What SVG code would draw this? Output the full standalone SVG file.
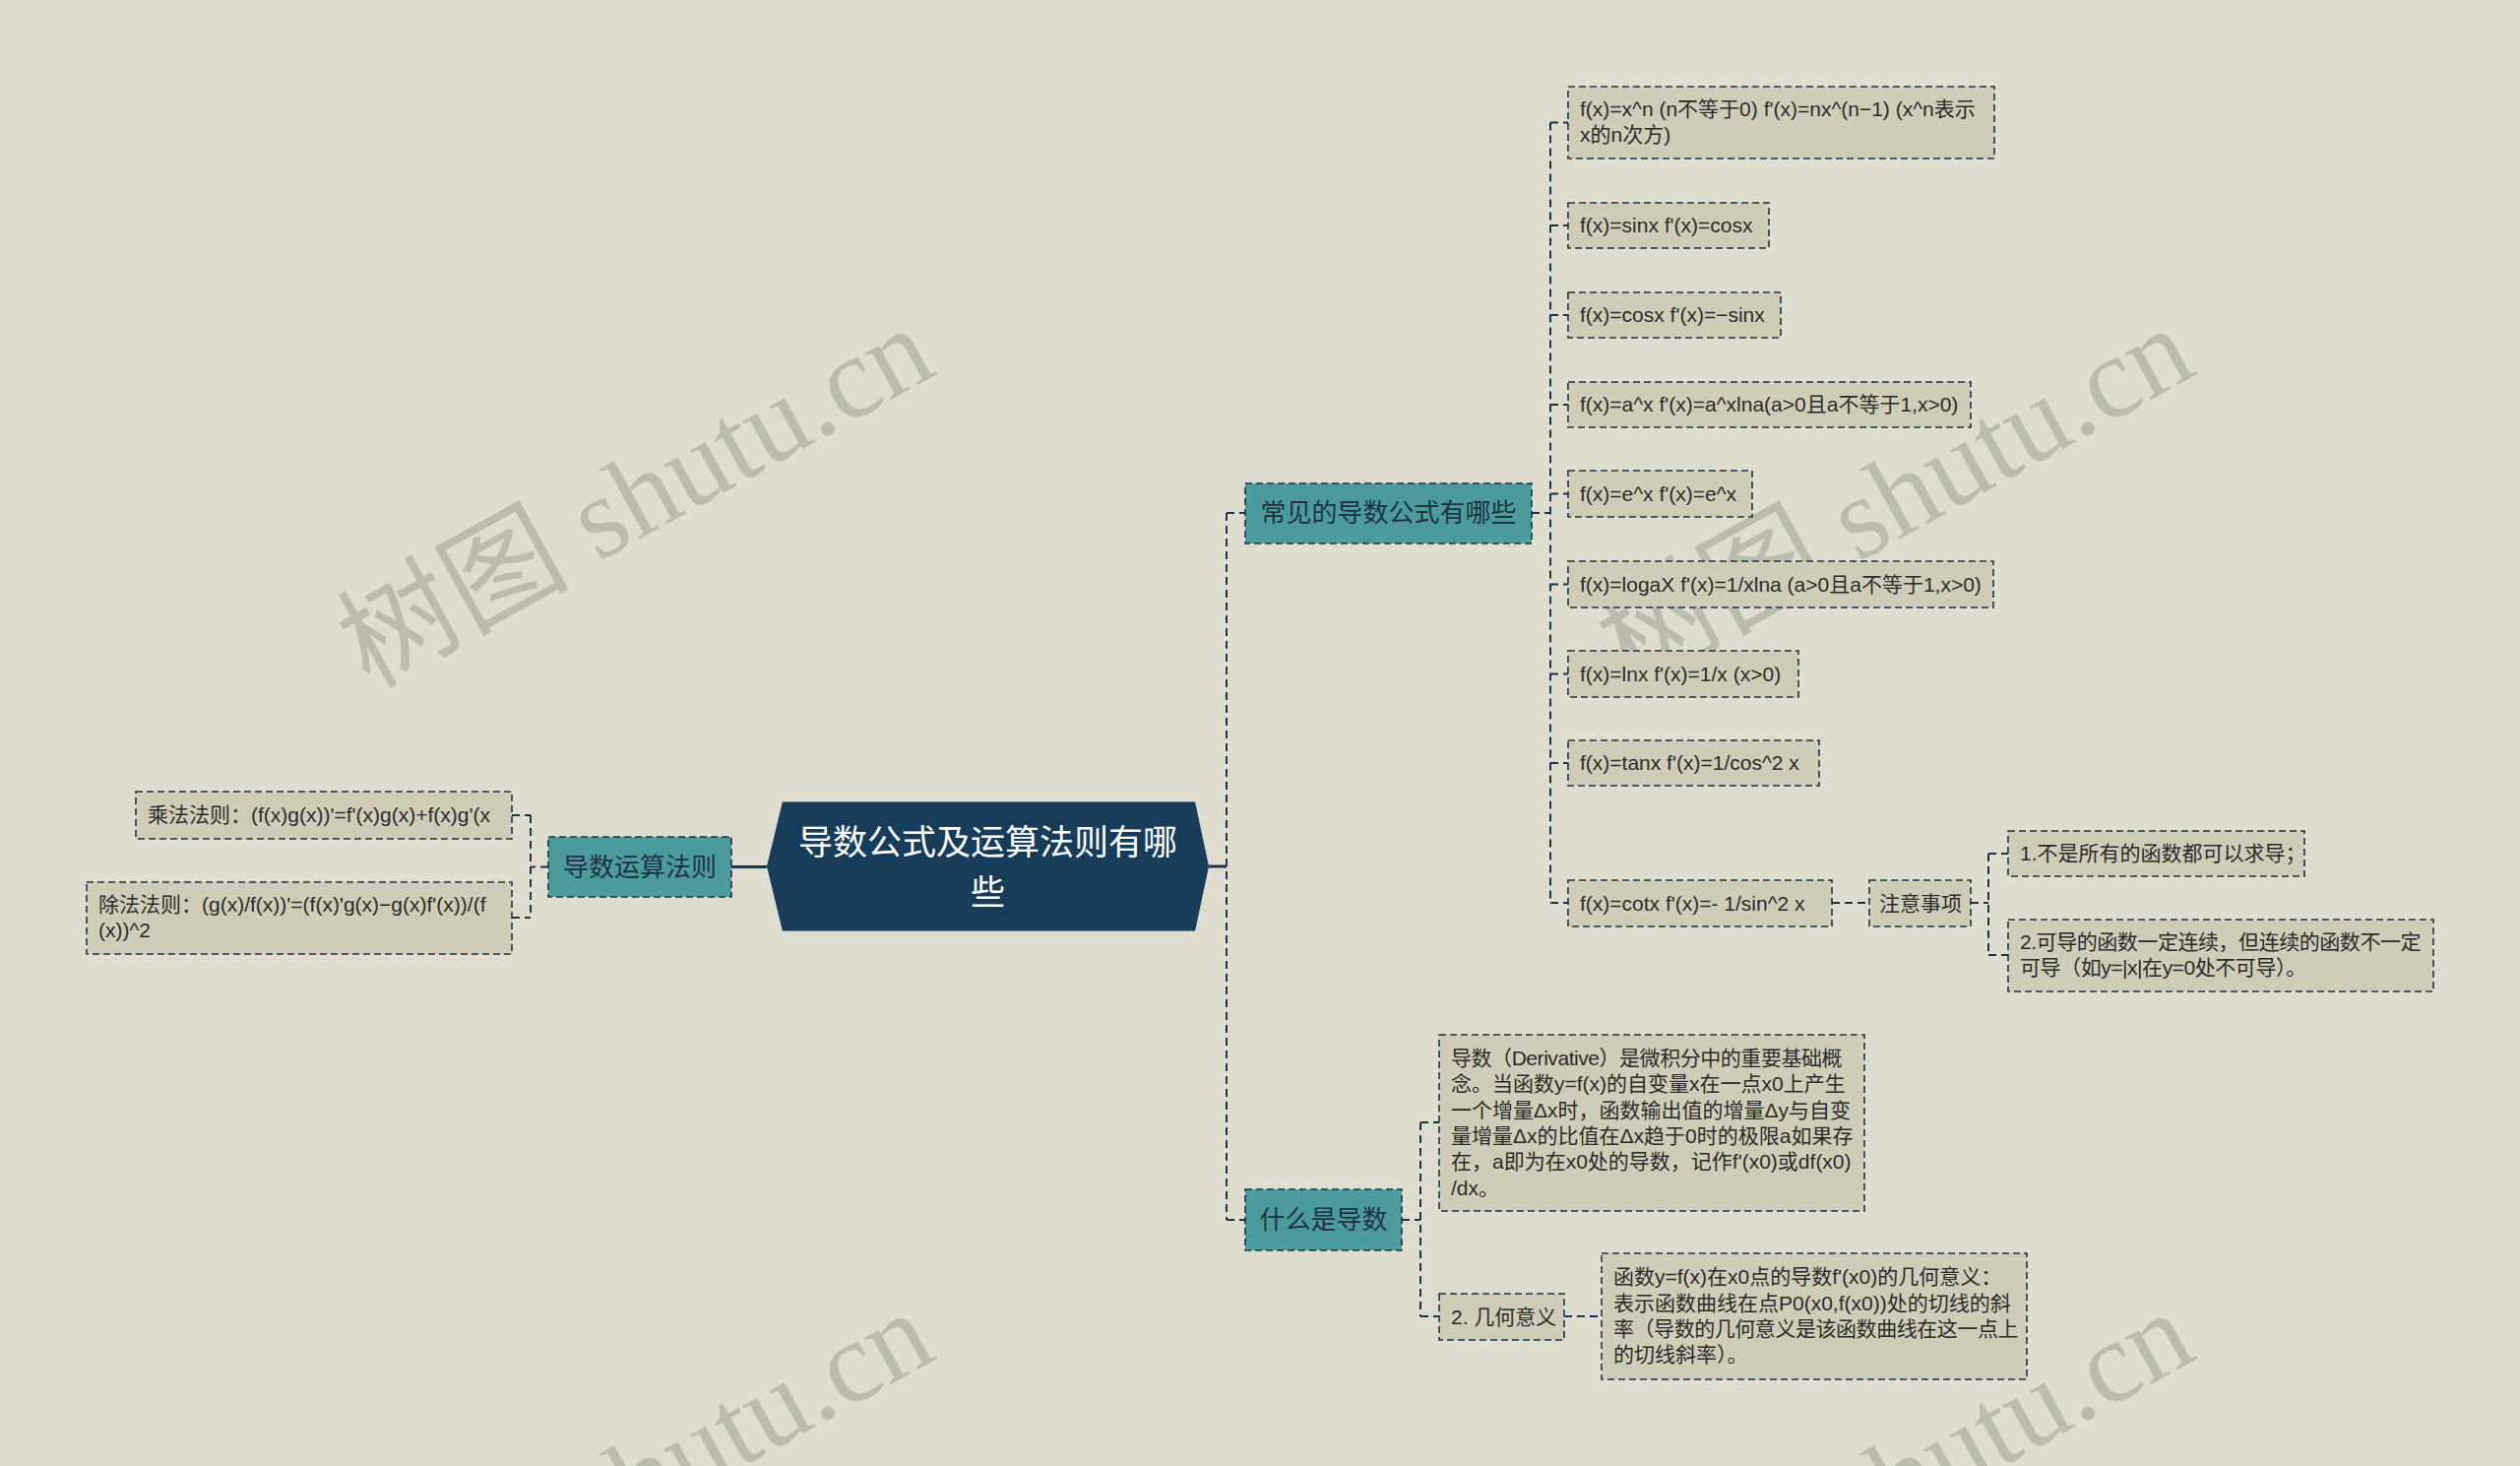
<svg xmlns="http://www.w3.org/2000/svg" width="2560" height="1489" viewBox="0 0 2560 1489">
<style>
.wm{font-family:"Liberation Serif","Noto Sans CJK SC",serif;font-size:118px;fill:#bcbcae}
.leaf rect{fill:#cfcdb7;stroke:#1c3447;stroke-width:1.6;stroke-dasharray:7 4}
.leaf text{font-family:"Liberation Sans","Noto Sans CJK SC",sans-serif;font-size:21px;fill:#2b2b2b}
.leaf text.tight{letter-spacing:-0.45px}
.main rect{fill:#4c9b9c;stroke:#1c3447;stroke-width:1.6;stroke-dasharray:7 4}
.main text{font-family:"Noto Sans CJK SC",sans-serif;font-size:26px;fill:#1e3340;text-anchor:middle}
.root text{font-family:"Noto Sans CJK SC",sans-serif;font-size:35px;fill:#ffffff;text-anchor:middle}
.conn path{fill:none;stroke:#1c3447;stroke-width:2;stroke-dasharray:8 5}
.conn .solid{stroke-dasharray:none;stroke-width:3}
</style>
<rect x="0" y="0" width="2560" height="1489" fill="#dfddcf"/>
<g id="watermarks">
<text class="wm" x="375" y="700" transform="rotate(-29 375 700)">树图 shutu.cn</text>
<text class="wm" x="1655" y="700" transform="rotate(-29 1655 700)">树图 shutu.cn</text>
<text class="wm" x="375" y="1700" transform="rotate(-29 375 1700)">树图 shutu.cn</text>
<text class="wm" x="1655" y="1700" transform="rotate(-29 1655 1700)">树图 shutu.cn</text>
</g>
<g id="connectors" class="conn">
<path class="solid" d="M743 880.5H779"/>
<path class="solid" d="M1228 880H1246"/>
<path d="M1246 521V1239M1246 521H1265M1246 1239H1265"/>
<path d="M539 828V932M557 880.5H539M520 828H539M520 932H539"/>
<path d="M1556 521H1575M1575 124.5V917M1575 124.5H1593M1575 229H1593M1575 320H1593M1575 411H1593M1575 501.5H1593M1575 593.5H1593M1575 684.5H1593M1575 775H1593M1575 917H1593"/>
<path d="M1861 917H1899M2002 917H2020M2020 867V970M2020 867H2040M2020 970H2040"/>
<path d="M1424 1239H1443M1443 1140V1337M1443 1140H1462M1443 1337H1462M1589 1337H1627"/>
</g>
<g id="root" class="root">
<polygon points="795,814 1214,814 1228,880 1214,946 795,946 779,880" fill="#173d5b"/>
<path d="M795 814H1214M795 946H1214" stroke="#eeeee4" stroke-width="1.2" opacity="0.8"/>
<text x="1003.5" y="868">导数公式及运算法则有哪</text>
<text x="1003.5" y="919">些</text>
</g>
<g id="n-rules" class="main">
<rect x="557" y="850" width="186" height="61"/>
<text x="650" y="890">导数运算法则</text>
</g>
<g id="n-common" class="main">
<rect x="1265" y="491" width="291" height="61"/>
<text x="1410.5" y="530">常见的导数公式有哪些</text>
</g>
<g id="n-what" class="main">
<rect x="1265" y="1208" width="159" height="62"/>
<text x="1344.5" y="1248">什么是导数</text>
</g>
<g id="n-mul" class="leaf">
<rect x="138" y="804" width="382" height="48"/>
<text x="150" y="835">乘法法则：(f(x)g(x))'=f'(x)g(x)+f(x)g'(x</text>
</g>
<g id="n-div" class="leaf">
<rect x="88" y="896" width="432" height="73"/>
<text x="100" y="926">除法法则：(g(x)/f(x))'=(f(x)'g(x)−g(x)f'(x))/(f</text>
<text x="100" y="952">(x))^2</text>
</g>
<g id="n-f1" class="leaf">
<rect x="1593" y="88" width="433" height="73"/>
<text x="1605" y="118">f(x)=x^n (n不等于0) f'(x)=nx^(n−1) (x^n表示</text>
<text x="1605" y="144">x的n次方)</text>
</g>
<g id="n-f2" class="leaf">
<rect x="1593" y="206" width="204" height="46"/>
<text x="1605" y="236">f(x)=sinx f'(x)=cosx</text>
</g>
<g id="n-f3" class="leaf">
<rect x="1593" y="297" width="216" height="46"/>
<text x="1605" y="327">f(x)=cosx f'(x)=−sinx</text>
</g>
<g id="n-f4" class="leaf">
<rect x="1593" y="388" width="409" height="46"/>
<text x="1605" y="418">f(x)=a^x f'(x)=a^xlna(a&gt;0且a不等于1,x&gt;0)</text>
</g>
<g id="n-f5" class="leaf">
<rect x="1593" y="478" width="187" height="47"/>
<text x="1605" y="509">f(x)=e^x f'(x)=e^x</text>
</g>
<g id="n-f6" class="leaf">
<rect x="1593" y="570" width="432" height="47"/>
<text x="1605" y="601">f(x)=logaX f'(x)=1/xlna (a&gt;0且a不等于1,x&gt;0)</text>
</g>
<g id="n-f7" class="leaf">
<rect x="1593" y="661" width="234" height="47"/>
<text x="1605" y="692">f(x)=lnx f'(x)=1/x (x&gt;0)</text>
</g>
<g id="n-f8" class="leaf">
<rect x="1593" y="752" width="255" height="46"/>
<text x="1605" y="782">f(x)=tanx f'(x)=1/cos^2 x</text>
</g>
<g id="n-f9" class="leaf">
<rect x="1593" y="894" width="268" height="47"/>
<text x="1605" y="925">f(x)=cotx f'(x)=- 1/sin^2 x</text>
</g>
<g id="n-note" class="leaf">
<rect x="1899" y="894" width="103" height="47"/>
<text x="1909" y="925">注意事项</text>
</g>
<g id="n-note1" class="leaf">
<rect x="2040" y="844" width="301" height="46"/>
<text x="2052" y="874">1.不是所有的函数都可以求导；</text>
</g>
<g id="n-note2" class="leaf">
<rect x="2040" y="934" width="432" height="73"/>
<text class="tight" x="2052" y="964">2.可导的函数一定连续，但连续的函数不一定</text>
<text class="tight" x="2052" y="990">可导（如y=|x|在y=0处不可导）。</text>
</g>
<g id="n-def" class="leaf">
<rect x="1462" y="1051" width="432" height="179"/>
<text class="tight" x="1474" y="1082">导数（Derivative）是微积分中的重要基础概</text>
<text x="1474" y="1108">念。当函数y=f(x)的自变量x在一点x0上产生</text>
<text x="1474" y="1135">一个增量Δx时，函数输出值的增量Δy与自变</text>
<text x="1474" y="1161">量增量Δx的比值在Δx趋于0时的极限a如果存</text>
<text x="1474" y="1187">在，a即为在x0处的导数，记作f'(x0)或df(x0)</text>
<text x="1474" y="1214">/dx。</text>
</g>
<g id="n-geo" class="leaf">
<rect x="1462" y="1314" width="127" height="47"/>
<text x="1474" y="1345">2. 几何意义</text>
</g>
<g id="n-geotext" class="leaf">
<rect x="1627" y="1273" width="432" height="128"/>
<text x="1639" y="1304">函数y=f(x)在x0点的导数f'(x0)的几何意义：</text>
<text x="1639" y="1331">表示函数曲线在点P0(x0,f(x0))处的切线的斜</text>
<text class="tight" x="1639" y="1357">率（导数的几何意义是该函数曲线在这一点上</text>
<text x="1639" y="1383">的切线斜率）。</text>
</g>
</svg>
